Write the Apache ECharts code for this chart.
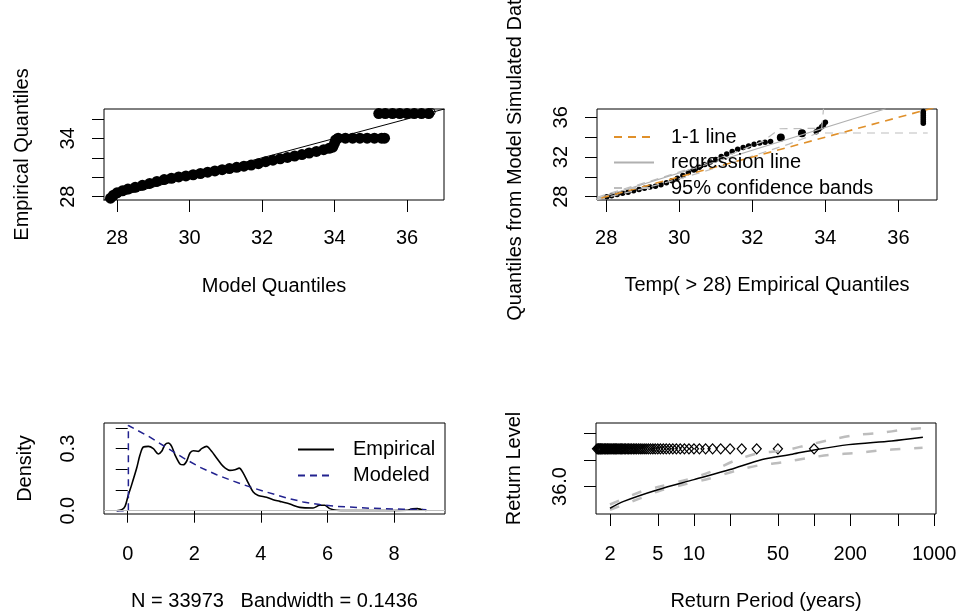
<!DOCTYPE html>
<html>
<head>
<meta charset="utf-8">
<title>fevd diagnostics</title>
<script src="https://cdn.jsdelivr.net/npm/echarts@6/dist/echarts.min.js"></script>
<style>
  html, body { margin: 0; padding: 0; background: #fff; }
  #chart-container { width: 956px; height: 615px; }
</style>
</head>
<body>
<div id="chart-container"></div>
<script>
var dom = document.getElementById("chart-container");
var myChart = echarts.init(dom, null, {
  renderer: "canvas",
  useDirtyRect: false
});

// ---- top left: empirical vs model quantiles
const qqModel = [27.82, 27.9, 28.0, 28.15, 28.3, 28.5, 28.7, 28.9, 29.1, 29.3, 29.5, 29.7, 29.9,
  30.1, 30.3, 30.5, 30.7, 30.9, 31.1, 31.3, 31.5, 31.7, 31.9, 32.1, 32.3, 32.5, 32.7, 32.9,
  33.1, 33.3, 33.5, 33.7, 33.85, 33.95, 34.0, 34.03, 34.1, 34.3, 34.5, 34.7, 34.9, 35.1, 35.3, 35.38,
  35.22, 35.4, 35.6, 35.8, 36.0, 36.2, 36.4, 36.6];
const qqEmpirical = [27.85, 28.15, 28.4, 28.6, 28.78, 28.97, 29.17, 29.37, 29.57, 29.76, 29.9, 30.03, 30.14,
  30.26, 30.39, 30.52, 30.65, 30.78, 30.9, 31.02, 31.14, 31.26, 31.4, 31.6, 31.76, 31.9, 32.04, 32.19,
  32.34, 32.5, 32.66, 32.84, 32.98, 33.1, 33.5, 33.85, 34.02, 34.02, 34.02, 34.02, 34.02, 34.02, 34.02, 34.02,
  36.56, 36.56, 36.56, 36.56, 36.56, 36.56, 36.56, 36.56];
const qqLastPoint = [36.68, 36.72];
const oneToOne = [27.5, 37.2];

// ---- top right: simulated-data quantiles vs empirical quantiles
const simEmpirical = [28.02, 28.15, 28.3, 28.45, 28.6, 28.75, 28.9, 29.05, 29.2, 29.35, 29.5, 29.65, 29.8, 29.95,
  30.1, 30.25, 30.4, 30.55, 30.7, 30.85, 31.0, 31.15, 31.3, 31.45, 31.6, 31.75, 31.9, 32.05, 32.2, 32.35, 32.5,
  33.75, 33.82, 33.9, 33.95, 34.0,
  36.68, 36.68, 36.68, 36.68, 36.68, 36.68, 36.68];
const simModel = [28.0, 28.1, 28.22, 28.34, 28.45, 28.6, 28.73, 28.86, 28.97, 29.06, 29.2, 29.4, 29.62, 29.85,
  30.15, 30.45, 30.7, 30.98, 31.25, 31.5, 31.75, 32.05, 32.3, 32.55, 32.78, 32.95, 33.12, 33.28, 33.42, 33.5, 33.56,
  34.55, 34.8, 35.05, 35.25, 35.5,
  35.4, 35.6, 35.8, 36.0, 36.2, 36.4, 36.6];
const simBigEmpirical = [32.78, 33.36];
const simBigModel = [33.96, 34.4];
const regEmpirical = [27.7, 35.65];
const regModel = [27.76, 36.86];
const bandUpEmpirical = [27.75, 28.5, 29.5, 30.5, 31.5, 32.3, 32.75, 33.9, 33.95];
const bandUpModel = [27.95, 28.8, 29.9, 31.1, 32.4, 33.6, 34.85, 34.9, 36.9];
const bandLowEmpirical = [27.75, 29, 30, 31, 32, 33, 33.8, 36.8];
const bandLowModel = [27.7, 28.8, 29.8, 30.9, 32.1, 33.3, 34.42, 34.42];

// ---- bottom left: density of excesses
const densEmpX = [-0.33, -0.18, -0.08, 0.02, 0.12, 0.27, 0.37, 0.47, 0.62, 0.77, 0.92, 1.02, 1.12, 1.22,
  1.32, 1.42, 1.57, 1.67, 1.77, 1.87, 1.97, 2.12, 2.22, 2.37, 2.52, 2.67, 2.87, 3.07, 3.22, 3.35, 3.47,
  3.62, 3.77, 3.92, 4.17, 4.37, 4.57, 4.87, 5.17, 5.57, 5.77, 5.92, 6.07, 6.27, 6.6, 7.5, 8.4, 8.55,
  8.7, 8.82, 8.97];
const densEmpY = [0, 0.005, 0.021, 0.077, 0.126, 0.206, 0.27, 0.308, 0.311, 0.3, 0.274, 0.287, 0.319, 0.327,
  0.311, 0.27, 0.226, 0.222, 0.239, 0.279, 0.29, 0.287, 0.3, 0.311, 0.287, 0.255, 0.214, 0.195, 0.198, 0.206, 0.182,
  0.134, 0.09, 0.074, 0.065, 0.053, 0.045, 0.032, 0.016, 0.013, 0.026, 0.026, 0.01, 0.002, 0.001, 0.001, 0.002, 0.009,
  0.01, 0.006, 0.001];
const densModX = [-0.33, 0.02, 0.02, 0.62, 1.12, 1.67, 2.17, 2.67, 3.17, 3.67, 4.17, 4.77, 5.27, 5.77, 6.27, 7.27, 8.27, 8.97];
const densModY = [0, 0, 0.412, 0.36, 0.31, 0.255, 0.21, 0.174, 0.143, 0.115, 0.09, 0.062, 0.042, 0.03, 0.021, 0.012, 0.007, 0.005];

// ---- bottom right: return levels
const rlPeriod = [2, 2.6, 5, 10, 20, 37, 66, 100, 194, 442, 805];
const rlLevel = [35.59, 35.72, 35.94, 36.13, 36.32, 36.51, 36.61, 36.69, 36.79, 36.86, 36.93];
const rlUpPeriod = [2, 3.6, 5.2, 8.7, 13.5, 22.5, 35, 56, 91, 137, 221, 355, 555, 800];
const rlUpLevel = [35.66, 35.9, 36.0, 36.13, 36.27, 36.5, 36.63, 36.68, 36.79, 36.88, 36.97, 37.01, 37.07, 37.1];
const rlLowPeriod = [2, 3.6, 5.2, 8.7, 13.5, 22.5, 35, 56, 91, 137, 221, 355, 555, 800];
const rlLowLevel = [35.56, 35.78, 35.92, 36.05, 36.15, 36.3, 36.4, 36.46, 36.54, 36.6, 36.63, 36.68, 36.71, 36.73];
const rlEmpPeriod = [100, 50, 33.3, 25, 20, 16.7, 14.3, 12.5, 11.1, 10, 9.09, 8.33, 7.69, 7.14, 6.67, 6.25,
  5.88, 5.56, 5.26, 5, 4.76, 4.55, 4.35, 4.17, 4, 3.85, 3.7, 3.57, 3.45, 3.33, 3.23, 3.13, 3.03, 2.94,
  2.86, 2.78, 2.7, 2.63, 2.56, 2.5, 2.44, 2.38, 2.33, 2.27, 2.22, 2.17, 2.13, 2.08, 2.04, 2, 1.96, 1.92,
  1.89, 1.85, 1.82, 1.79, 1.75, 1.72, 1.69, 1.67, 1.64, 1.61, 1.59, 1.56];
const rlEmpLevel = 36.71;

// ---- ticks and labels
const qTicks = [28, 30, 32, 34, 36];
const q1YLabels = [28, 34];
const q2YLabels = [28, 32, 36];
const densXTicks = [0, 2, 4, 6, 8];
const densYTicks = [0, 0.1, 0.2, 0.3, 0.4];
const densYLabels = [0, 0.3];
const rpTicks = [2, 5, 10, 20, 50, 100, 200, 500, 1000];
const rpLabels = [2, 5, 10, 50, 200, 1000];
const rlTicks = [36, 36.5, 37];
const rlLabels = [36];

const FONT = "'Liberation Sans', Arial, Helvetica, sans-serif";
const FS = 20;
const txt = { fontSize: FS, fontFamily: FONT, color: '#000' };

function zip(xs, ys) {
  return xs.map(function (x, i) { return [x, ys[i]]; });
}

function rAxis(o) {
  return {
    gridIndex: o.grid,
    type: o.type || 'value',
    logBase: 10,
    min: o.min,
    max: o.max,
    name: o.name,
    nameLocation: 'middle',
    nameGap: o.nameGap,
    nameTextStyle: txt,
    axisLine: { show: false },
    splitLine: { show: false },
    axisTick: {
      show: true, length: 12, customValues: o.ticks,
      lineStyle: { color: '#000', width: 1 }
    },
    axisLabel: {
      customValues: o.labels,
      fontSize: FS, fontFamily: FONT, color: '#000',
      margin: o.margin,
      rotate: o.rotate || 0,
      formatter: o.formatter || function (v) { return String(Math.round(v * 1000) / 1000); }
    }
  };
}

// plain R-style box, no automatic shrinking to fit long axis names
const gridBox = {
  show: true, borderColor: '#000', borderWidth: 1, backgroundColor: 'transparent',
  containLabel: false, outerBoundsMode: 'none'
};

var option = {
  animation: false,
  backgroundColor: '#fff',
  grid: [
    Object.assign({ left: 104, top: 109, width: 340, height: 91 }, gridBox),
    Object.assign({ left: 597, top: 109, width: 340, height: 91 }, gridBox),
    Object.assign({ left: 104, top: 423, width: 341, height: 91 }, gridBox),
    Object.assign({ left: 596, top: 423, width: 340, height: 91 }, gridBox)
  ],
  xAxis: [
    rAxis({ grid: 0, min: 27.64, max: 37.02, ticks: qTicks, labels: qTicks, margin: 28,
      name: 'Model Quantiles', nameGap: 76.5 }),
    rAxis({ grid: 1, min: 27.75, max: 37.055, ticks: qTicks, labels: qTicks, margin: 28,
      name: 'Temp( > 28) Empirical Quantiles', nameGap: 75 }),
    rAxis({ grid: 2, min: -0.712, max: 9.53, ticks: densXTicks, labels: densXTicks, margin: 30,
      name: 'N = 33973   Bandwidth = 0.1436', nameGap: 77.5 }),
    rAxis({ grid: 3, type: 'log', min: 1.53, max: 1035, ticks: rpTicks, labels: rpLabels, margin: 30,
      name: 'Return Period (years)', nameGap: 77.5,
      formatter: function (v) { return String(Math.round(v)); } })
  ],
  yAxis: [
    rAxis({ grid: 0, min: 27.66, max: 37.03, ticks: qTicks, labels: q1YLabels, margin: 26, rotate: 90,
      name: 'Empirical Quantiles', nameGap: 72 }),
    rAxis({ grid: 1, min: 27.67, max: 36.84, ticks: qTicks, labels: q2YLabels, margin: 26, rotate: 90,
      name: 'Quantiles from Model Simulated Data', nameGap: 71.5 }),
    rAxis({ grid: 2, min: -0.016, max: 0.424, ticks: densYTicks, labels: densYLabels, margin: 26, rotate: 90,
      name: 'Density', nameGap: 69,
      formatter: function (v) { return v.toFixed(1); } }),
    rAxis({ grid: 3, min: 35.481, max: 37.198, ticks: rlTicks, labels: rlLabels, margin: 26, rotate: 90,
      name: 'Return Level', nameGap: 71.5,
      formatter: function (v) { return v.toFixed(1); } })
  ],
  legend: [
    {
      data: ['1-1 line', 'regression line', '95% confidence bands'],
      orient: 'vertical', left: 613, top: 127, padding: 0,
      itemWidth: 40, itemHeight: 19, itemGap: 5.5,
      itemStyle: { opacity: 0 },
      textStyle: { fontSize: FS, fontFamily: FONT, color: '#000', padding: [0, 0, 0, 12] },
      selectedMode: false
    },
    {
      data: ['Empirical', 'Modeled'],
      orient: 'vertical', left: 297, top: 439.5, padding: 0,
      itemWidth: 36, itemHeight: 19, itemGap: 6,
      itemStyle: { opacity: 0 },
      textStyle: { fontSize: FS, fontFamily: FONT, color: '#000', padding: [0, 0, 0, 14] },
      selectedMode: false
    }
  ],
  series: [
    // top left
    {
      name: 'qq points', type: 'scatter', xAxisIndex: 0, yAxisIndex: 0,
      symbol: 'circle', symbolSize: 11, itemStyle: { color: '#000', opacity: 1 },
      data: zip(qqModel, qqEmpirical)
    },
    {
      name: 'qq last', type: 'scatter', xAxisIndex: 0, yAxisIndex: 0,
      symbol: 'circle', symbolSize: 7,
      itemStyle: { color: 'rgba(0,0,0,0)', borderColor: '#000', borderWidth: 1, opacity: 1 },
      data: [qqLastPoint]
    },
    {
      name: 'qq 1-1', type: 'line', xAxisIndex: 0, yAxisIndex: 0,
      symbol: 'none', lineStyle: { color: '#000', width: 1 },
      data: zip(oneToOne, oneToOne)
    },
    // top right
    {
      name: '95% confidence bands', type: 'line', xAxisIndex: 1, yAxisIndex: 1,
      symbol: 'none', color: '#bdbdbd', lineStyle: { color: '#bdbdbd', width: 1.2, type: [8, 6] },
      data: zip(bandUpEmpirical, bandUpModel)
    },
    {
      name: '95% confidence bands', type: 'line', xAxisIndex: 1, yAxisIndex: 1,
      symbol: 'none', color: '#bdbdbd', lineStyle: { color: '#bdbdbd', width: 1.2, type: [8, 6] },
      data: zip(bandLowEmpirical, bandLowModel)
    },
    {
      name: 'regression line', type: 'line', xAxisIndex: 1, yAxisIndex: 1,
      symbol: 'none', color: '#b0b0b0', lineStyle: { color: '#b0b0b0', width: 1.2 },
      data: zip(regEmpirical, regModel)
    },
    {
      name: '1-1 line', type: 'line', xAxisIndex: 1, yAxisIndex: 1,
      symbol: 'none', color: '#e0902a', lineStyle: { color: '#e0902a', width: 1.6, type: [8, 6] },
      data: zip(oneToOne, oneToOne)
    },
    {
      name: 'sim points', type: 'scatter', xAxisIndex: 1, yAxisIndex: 1,
      symbol: 'circle', symbolSize: 5.5, itemStyle: { color: '#000', opacity: 1 },
      data: zip(simEmpirical, simModel)
    },
    {
      name: 'sim big points', type: 'scatter', xAxisIndex: 1, yAxisIndex: 1,
      symbol: 'circle', symbolSize: 8, itemStyle: { color: '#000', opacity: 1 },
      data: zip(simBigEmpirical, simBigModel)
    },
    // bottom left
    {
      name: 'Empirical', type: 'line', xAxisIndex: 2, yAxisIndex: 2,
      symbol: 'none', smooth: 0.3, color: '#000', lineStyle: { color: '#000', width: 1.6 },
      data: zip(densEmpX, densEmpY),
      markLine: {
        silent: true, symbol: 'none', label: { show: false },
        lineStyle: { color: '#bebebe', width: 1.2, type: 'solid' },
        data: [{ yAxis: 0 }]
      },
      z: 3
    },
    {
      name: 'Modeled', type: 'line', xAxisIndex: 2, yAxisIndex: 2,
      symbol: 'none', color: '#22228f', lineStyle: { color: '#22228f', width: 1.5, type: [7, 5] },
      data: zip(densModX, densModY),
      z: 4
    },
    // bottom right
    {
      name: 'rl upper', type: 'line', xAxisIndex: 3, yAxisIndex: 3,
      symbol: 'none', smooth: 0.3, lineStyle: { color: '#bdbdbd', width: 2.5, type: [10, 14] },
      data: zip(rlUpPeriod, rlUpLevel)
    },
    {
      name: 'rl lower', type: 'line', xAxisIndex: 3, yAxisIndex: 3,
      symbol: 'none', smooth: 0.3, lineStyle: { color: '#bdbdbd', width: 2.5, type: [10, 14] },
      data: zip(rlLowPeriod, rlLowLevel)
    },
    {
      name: 'rl fit', type: 'line', xAxisIndex: 3, yAxisIndex: 3,
      symbol: 'none', smooth: 0.3, lineStyle: { color: '#000', width: 1.5 },
      data: zip(rlPeriod, rlLevel)
    },
    {
      name: 'rl empirical', type: 'scatter', xAxisIndex: 3, yAxisIndex: 3,
      symbol: 'diamond', symbolSize: [9, 10],
      itemStyle: { color: 'rgba(0,0,0,0)', borderColor: '#000', borderWidth: 1.3, opacity: 1 },
      data: rlEmpPeriod.map(function (p) { return [p, rlEmpLevel]; })
    }
  ]
};

if (option && typeof option === "object") {
  myChart.setOption(option);
}

window.addEventListener("resize", myChart.resize);
</script>
</body>
</html>
